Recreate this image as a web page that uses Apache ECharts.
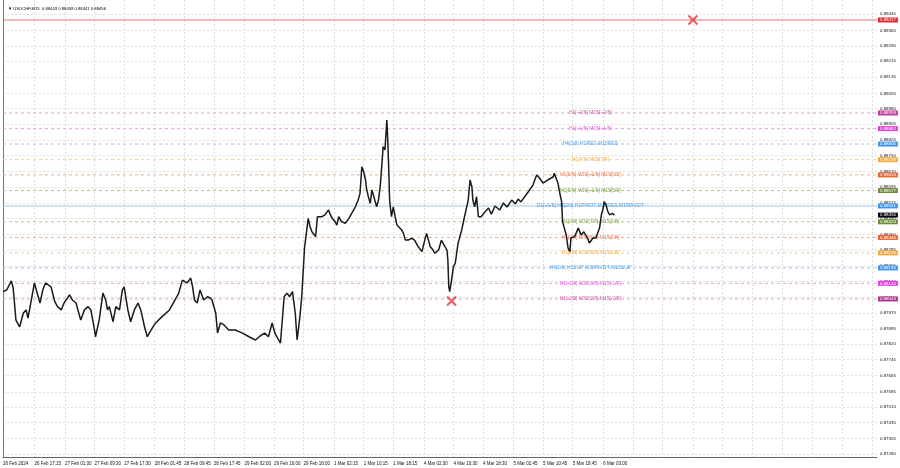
<!DOCTYPE html>
<html><head><meta charset="utf-8">
<script src="https://cdn.jsdelivr.net/npm/echarts@6/dist/echarts.min.js"></script>
<style>html,body{margin:0;padding:0;background:#fff}#c{width:900px;height:468px}</style>
</head><body><div id="c"></div>
<script>
// ---- data (M15 bar index from left edge, close price) ----
const barIdx = [0,4,9,11,14,18,22,25,27,30,34,36,40,43,46,52,56,59,63,66,72,75,79,84,88,92,95,99,100,104,108,111,113,115,119,122,126,129,131,135,138,142,146,149,153,156,160,165,172,180,186,190,194,199,203,205,207,210,213,217,221,224,226,230,232,235,239,244,251,259,266,273,277,283,287,291,294,298,300,304,307,310,313,316,318,321,323,326,328,330,332,334,336,338,340,341,345,348,352,354,356,359,361,363,366,370,374,377,381,384,386,388,390,392,393,395,397,399,401,402,404,406,408,410,411,413,415,416,417,418,420,422,424,426,428,431,433,435,438,442,445,449,453,456,458,460,462,465,467,471,474,478,480,481,482,483,485,487,489,490,492,496,499,503,505,507,508,510,512,514,517,521,525,528,532,537,541,545,550,554,557,560,568,573,577,580,584,589,595,596,600,602,604,605,609,611,613,614,618,622,625,628,632,634,638,641,645,647,649,650,652,654,656,659,661];
const closes = [0.88079,0.88087,0.88132,0.88097,0.87939,0.87906,0.87974,0.87989,0.87949,0.88023,
0.88122,0.88087,0.88023,0.88087,0.88122,0.88102,0.88030,0.88005,0.87989,0.88023,
0.88063,0.88038,0.88023,0.87939,0.87989,0.88005,0.87989,0.87890,0.87857,0.87939,
0.88072,0.88038,0.87989,0.88005,0.87931,0.88005,0.87989,0.88087,0.88103,0.87989,
0.87931,0.87989,0.88023,0.87989,0.87906,0.87857,0.87890,0.87925,0.87956,0.87989,
0.88038,0.88072,0.88136,0.88122,0.88146,0.88103,0.88038,0.88023,0.88087,0.88038,
0.88054,0.88048,0.88038,0.87974,0.87875,0.87925,0.87915,0.87890,0.87890,0.87875,
0.87857,0.87841,0.87857,0.87875,0.87857,0.87925,0.87875,0.87841,0.87826,0.88054,
0.88072,0.88054,0.88079,0.87974,0.87841,0.87956,0.88054,0.88293,0.88366,0.88440,
0.88399,0.88374,0.88366,0.88350,0.88448,0.88457,0.88448,0.88457,0.88481,0.88457,
0.88440,0.88424,0.88407,0.88448,0.88424,0.88416,0.88440,0.88465,0.88497,0.88530,
0.88563,0.88694,0.88670,0.88629,0.88588,0.88547,0.88514,0.88580,0.88588,0.88530,
0.88497,0.88530,0.88604,0.88727,0.88793,0.88777,0.88924,0.88826,0.88694,0.88530,
0.88448,0.88497,0.88448,0.88407,0.88399,0.88383,0.88366,0.88333,0.88333,0.88342,
0.88333,0.88300,0.88276,0.88333,0.88366,0.88333,0.88300,0.88284,0.88268,0.88284,
0.88333,0.88300,0.88284,0.88235,0.88103,0.88079,0.88136,0.88202,0.88219,0.88251,
0.88317,0.88383,0.88448,0.88530,0.88629,0.88596,0.88530,0.88497,0.88547,0.88448,
0.88448,0.88471,0.88491,0.88461,0.88501,0.88481,0.88516,0.88496,0.88530,0.88511,
0.88535,0.88521,0.88571,0.88604,0.88654,0.88639,0.88614,0.88629,0.88645,0.88662,
0.88614,0.88565,0.88522,0.88424,0.88358,0.88293,0.88276,0.88343,0.88350,0.88392,
0.88358,0.88374,0.88343,0.88319,0.88343,0.88343,0.88392,0.88457,0.88491,0.88522,
0.88506,0.88473,0.88457,0.88465,0.88456];

const ohlc = [0.88443, 0.88459, 0.88441, 0.88456];
const symbolName = "USDCHF,M15";

// time-axis tick labels (bar index of each label)
const xTickIdx = [0,34,67,99,131,164,196,228,261,293,325,358,390,422,455,487,519,552,584,616,649];
const xTickLabels = ["26 Feb 2024","26 Feb 17:15","27 Feb 01:30","27 Feb 09:30","27 Feb 17:30","28 Feb 01:45","28 Feb 09:45","28 Feb 17:45","29 Feb 02:00","29 Feb 10:00","29 Feb 18:00","1 Mar 02:15","1 Mar 10:15","1 Mar 18:15","4 Mar 02:30","4 Mar 10:30","4 Mar 18:30","5 Mar 02:45","5 Mar 10:45","5 Mar 18:45","6 Mar 03:00"];
const xGridExtra = [681,713,746,778,810,843,875,907,940];

// price-axis tick labels
const yTicks = [0.89445,0.89365,0.89290,0.89215,0.89135,0.89055,0.88980,0.88905,0.88825,0.88750,0.88670,0.88595,0.88515,0.88440,0.88360,0.88285,0.88205,0.88130,0.88050,0.87975,0.87895,0.87820,0.87745,0.87665,0.87585,0.87510,0.87435,0.87355,0.87280];

// Murrey levels
const levelValues = [0.88959,0.88882,0.88806,0.88729,0.88654,0.88577,0.88501,0.88423,0.88346,0.88270,0.88196,0.88120,0.88043];
const levelNames = ["H1[+2/8] M15[+2/8]","H1[+1/8] M15[+1/8]","H4[3/8] H1RES M15RES","H1[7/8] M15[7/8]","H1[6/8] M30[+2/8] M15[6/8]","H1[5/8] M30[+1/8] M15[5/8]","D1[+1/8] H4[2/8] H1PIVOT M30RES M15PIVOT","H1[3/8] M30[7/8] M15[3/8]","H1[2/8] M30[6/8] M15[2/8]","H1[1/8] M30[5/8] M15[1/8]","H4[1/8] H1SUP M30PIVOT M15SUP","H1[-1/8] M30[3/8] M15[-1/8]","H1[-2/8] M30[2/8] M15[-2/8]"];
const redLevel = 0.89417;
const signalIdx = [485, 746];
const signalPrice = [0.88033, 0.89417];

// ---- styles ----
const textColors = ['#c2398f','#d93ad9','#2f8fe0','#f0a030','#e5622f','#6b8e23','#2f8fe0','#6b8e23','#e5622f','#f0a030','#2f8fe0','#d93ad9','#c2398f'];
const boxColors  = ['#c2399a','#e23ae2','#3b95f0','#f5a83a','#f0622f','#6f8d3a','#3b95f0','#6f8d3a','#f0622f','#f5a83a','#3b95f0','#e23ae2','#b3318f'];
const lineColors = ['#e3a0cd','#eca0ec','#9ec8f2','#f4cd96','#f0ae8e','#b6c78e','#9ec8f2','#b6c78e','#f0ae8e','#f4cd96','#9ec8f2','#eca0ec','#e3a0cd'];
const FONT = 'Liberation Sans';
const X_MIN = 0, X_MAX = 945;
const yMin = 0.872647, yMax = 0.895154;
const LABEL_X = 635;

const chart = echarts.init(document.getElementById('c'), null, {renderer:'canvas'});

function levelSeries(v, lineStyle, boxColor, z) {
  return {
    type:'line', silent:true, showSymbol:false, symbol:'none', z: z,
    data: [[X_MIN, v],[X_MAX, v]],
    lineStyle: lineStyle,
    endLabel: {show:true, distance:1, formatter: v.toFixed(5), color:'#fff',
               backgroundColor: boxColor, fontSize:4.4, fontFamily:FONT, padding:[1,2,0,2]}
  };
}

const series = [];
levelValues.forEach((v,i)=>{
  series.push(levelSeries(v, {color: lineColors[i], width:1, type: i===6 ? 'solid' : [3,3]}, boxColors[i], 2));
});
series.push(levelSeries(redLevel, {color:'#e57373', width:1, type:'solid'}, '#e0262b', 2));
series.push(levelSeries(ohlc[3], {opacity:0, width:0}, '#000', 7));
series.push({
  type:'scatter', name:'levelNames', symbolSize:0, z:3, silent:true,
  data: levelValues.map((v,i)=>({value:[LABEL_X, v], label:{color:textColors[i]}})),
  label:{show:true, position:'inside', formatter: p => levelNames[p.dataIndex], fontSize:5, fontFamily:FONT}
});
series.push({
  type:'line', name:'price', showSymbol:false, z:5,
  data: barIdx.map((b,i)=>[b, closes[i]]),
  lineStyle:{color:'#1a1a1a', width:1.5}
});
series.push({
  type:'scatter', name:'signals', z:6,
  symbol:'path://M0 0L10 10M10 0L0 10', symbolSize:9,
  itemStyle:{color:'none', borderColor:'#e0383c', borderWidth:2},
  data: signalIdx.map((b,i)=>[b, signalPrice[i]])
});

const option = {
  animation: false,
  backgroundColor: '#fff',
  title: {
    text: '\u25BC ' + symbolName + '  ' + ohlc.map(v=>v.toFixed(5)).join(' '),
    left: 3, top: 2,
    textStyle: {fontSize:4.2, fontWeight:'normal', color:'#000', fontFamily:FONT}
  },
  grid: {left:0, right:23, top:0, bottom:11, containLabel:false},
  xAxis: {
    type:'value', min:X_MIN, max:X_MAX,
    axisLine:{show:true, lineStyle:{color:'#666', width:1}},
    axisTick:{show:false, customValues: xTickIdx.concat(xGridExtra)},
    splitLine:{show:true, lineStyle:{color:'#dedede', width:1, type:[2,2]}},
    axisLabel:{
      customValues: xTickIdx,
      formatter: v => { const k = xTickIdx.indexOf(Math.round(v)); return k>=0 ? xTickLabels[k] : ''; },
      align:'left', fontSize:4.5, color:'#111', fontFamily:FONT, margin:4
    }
  },
  yAxis: [{
    type:'value', position:'right', min:yMin, max:yMax,
    axisLine:{show:true, lineStyle:{color:'#777', width:1}},
    axisTick:{show:false, customValues: yTicks},
    splitLine:{show:true, lineStyle:{color:'#dedede', width:1, type:[2,2]}},
    axisLabel:{customValues: yTicks, formatter: v => v.toFixed(5), fontSize:4.4, color:'#111', fontFamily:FONT, margin:3}
  },{
    type:'value', position:'left', min:yMin, max:yMax,
    axisLine:{show:true, lineStyle:{color:'#777', width:1}},
    axisTick:{show:false}, axisLabel:{show:false}, splitLine:{show:false}
  }],
  series: series
};
chart.setOption(option);
</script></body></html>
